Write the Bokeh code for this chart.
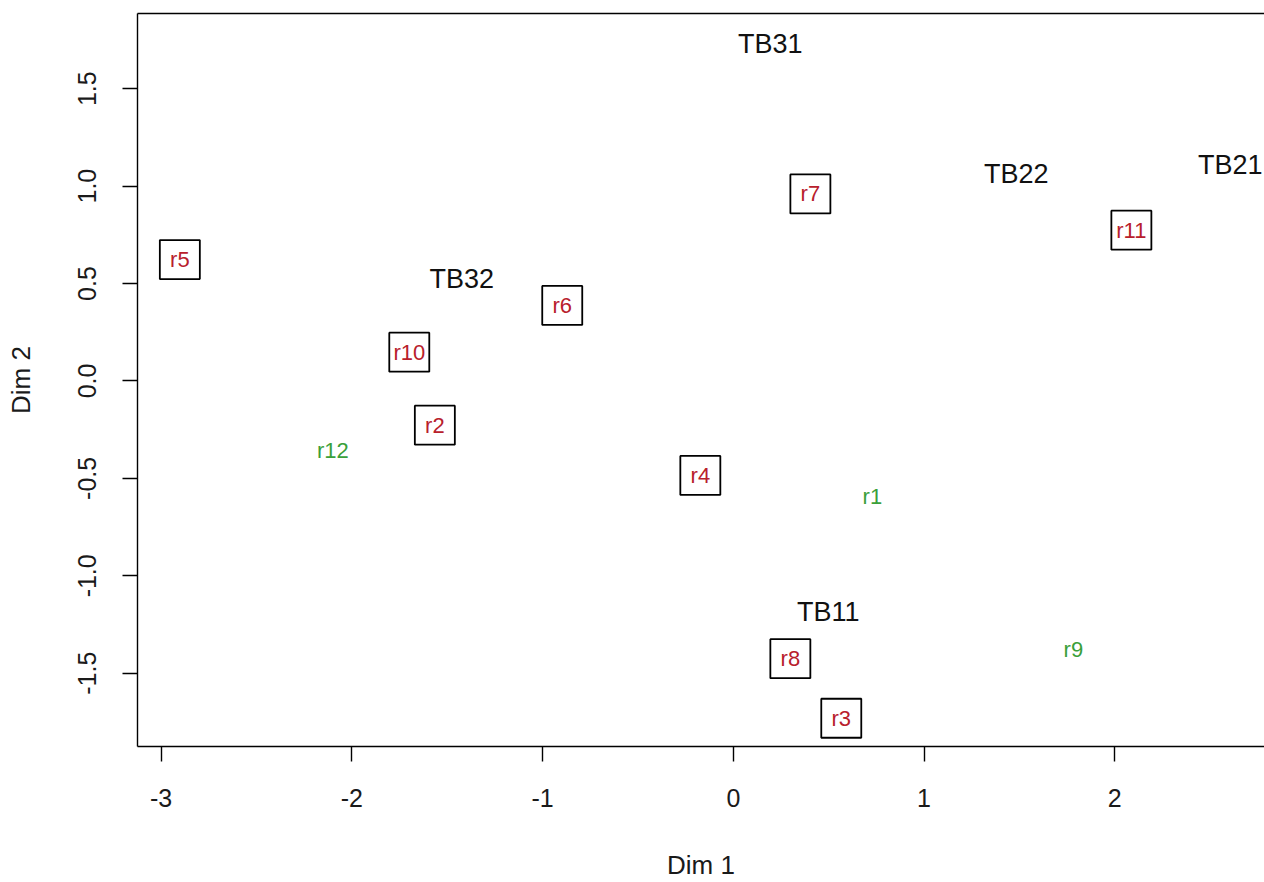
from bokeh.plotting import figure
from bokeh.models import Range1d, FixedTicker, LinearAxis, ColumnDataSource
from bokeh.core.properties import value
from bokeh.embed import file_html
from bokeh.resources import INLINE

# ---- data ----
x_ticks = [-3, -2, -1, 0, 1, 2]
x_tick_labels = ["-3", "-2", "-1", "0", "1", "2"]
y_ticks = [-1.5, -1.0, -0.5, 0.0, 0.5, 1.0, 1.5]
y_tick_labels = ["-1.5", "-1.0", "-0.5", "0.0", "0.5", "1.0", "1.5"]

tb_labels = ["TB11", "TB21", "TB22", "TB31", "TB32"]
tb_x = [0.498, 2.606, 1.484, 0.194, -1.424]
tb_y = [-1.185, 1.108, 1.062, 1.731, 0.521]

boxed_labels = ["r2", "r3", "r4", "r5", "r6", "r7", "r8", "r10", "r11"]
boxed_x = [-1.565, 0.566, -0.173, -2.902, -0.897, 0.404, 0.299, -1.699, 2.087]
boxed_y = [-0.227, -1.731, -0.485, 0.623, 0.388, 0.960, -1.425, 0.148, 0.774]

plain_labels = ["r1", "r9", "r12"]
plain_x = [0.729, 1.783, -2.100]
plain_y = [-0.592, -1.379, -0.358]

FONT = "Liberation Sans"

p = figure(width=1264, height=882,
           x_range=Range1d(-3.124, 2.785), y_range=Range1d(-1.876, 1.886),
           output_backend="svg", toolbar_location=None,
           min_border_left=137, min_border_right=0,
           min_border_top=13, min_border_bottom=133)

p.xgrid.visible = False
p.ygrid.visible = False
p.outline_line_color = None
p.background_fill_color = "white"
p.border_fill_color = "white"

xb = p.below[0]
yl = p.left[0]

for ax in (xb, yl):
    ax.axis_line_color = "black"
    ax.axis_line_width = 1.4
    ax.major_tick_line_color = "black"
    ax.major_tick_line_width = 1.4
    ax.major_tick_out = 15
    ax.major_tick_in = 0
    ax.minor_tick_line_color = None
    ax.major_label_text_font = FONT
    ax.major_label_text_font_size = "25px"
    ax.major_label_text_color = "#1a1a1a"
    ax.axis_label_text_font = FONT
    ax.axis_label_text_font_size = "26px"
    ax.axis_label_text_font_style = "normal"
    ax.axis_label_text_color = "#1a1a1a"

xb.ticker = FixedTicker(ticks=x_ticks)
xb.major_label_overrides = {t: l for t, l in zip(x_ticks, x_tick_labels)}
xb.axis_label = "Dim 1"
xb.major_label_standoff = 27
xb.axis_label_standoff = 40

yl.ticker = FixedTicker(ticks=y_ticks)
yl.major_label_overrides = {t: l for t, l in zip(y_ticks, y_tick_labels)}
yl.major_label_orientation = "vertical"
yl.axis_label = "Dim 2"
yl.major_label_standoff = 26
yl.axis_label_standoff = 40

# top border line via an "above" axis with no ticks
top_axis = LinearAxis(ticker=FixedTicker(ticks=[]), axis_line_color="black",
                      axis_line_width=1.4, major_tick_line_color=None,
                      minor_tick_line_color=None, major_label_text_font_size="0px",
                      major_tick_out=0, major_tick_in=0, major_label_standoff=0)
p.add_layout(top_axis, "above")

# black category labels
tb_src = ColumnDataSource(dict(x=tb_x, y=tb_y, t=tb_labels))
p.text(x="x", y="y", text="t", source=tb_src, text_align="center",
       text_baseline="middle", text_font=value(FONT), text_font_size="27px",
       text_color="#111111")

# boxed red labels
bx_src = ColumnDataSource(dict(x=boxed_x, y=boxed_y, t=boxed_labels))
p.rect(x="x", y="y", width=40, height=39, width_units="screen", height_units="screen",
       source=bx_src, fill_color="white", line_color="black", line_width=1.8)
p.text(x="x", y="y", text="t", source=bx_src, text_align="center",
       text_baseline="middle", text_font=value(FONT), text_font_size="22px",
       text_color="#b8202c")

# plain green labels
pl_src = ColumnDataSource(dict(x=plain_x, y=plain_y, t=plain_labels))
p.text(x="x", y="y", text="t", source=pl_src, text_align="center",
       text_baseline="middle", text_font=value(FONT), text_font_size="22px",
       text_color="#3aa03a")

open("out.html", "w").write(file_html(p, INLINE))
